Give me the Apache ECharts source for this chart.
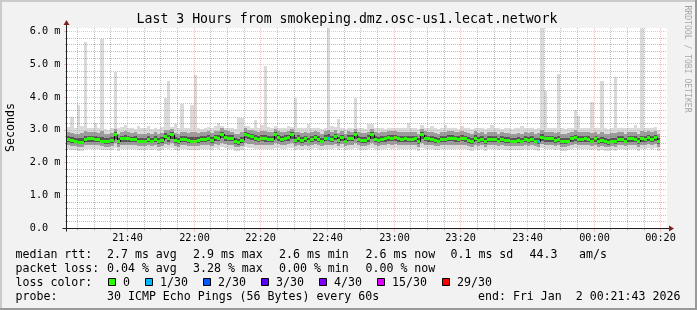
<!DOCTYPE html>
<html><head><meta charset="utf-8">
<script src="https://cdn.jsdelivr.net/npm/echarts@6/dist/echarts.min.js"></script>
<style>html,body{margin:0;padding:0;background:#f2f2f2}#c{width:697px;height:310px}</style>
</head><body><div id="c"></div><script>
// ---------- data ----------
const titleText = 'Last 3 Hours from smokeping.dmz.osc-us1.lecat.network';
const axisStart = '21:22', axisEnd = '00:22', firstSample = '21:22', stepMinutes = 1;
const xTickLabels = ['21:40','22:00','22:20','22:40','23:00','23:20','23:40','00:00','00:20'];
const yTickValues = [0,1,2,3,4,5,6];
const yMax = 6.1;

const medianRtt = [
2.70,2.67,2.65,2.62,2.62,2.69,2.72,2.72,2.69,2.69,
2.65,2.63,2.63,2.67,2.84,2.63,2.72,2.72,2.72,2.69,
2.69,2.65,2.65,2.65,2.69,2.65,2.69,2.63,2.67,2.80,
2.72,2.84,2.67,2.63,2.69,2.69,2.67,2.65,2.65,2.67,
2.69,2.69,2.73,2.67,2.75,2.73,2.86,2.75,2.73,2.73,
2.63,2.60,2.67,2.86,2.81,2.78,2.73,2.69,2.73,2.72,
2.69,2.69,2.84,2.75,2.70,2.73,2.75,2.84,2.67,2.72,
2.67,2.72,2.65,2.69,2.75,2.69,2.65,2.73,2.73,2.71,
2.78,2.67,2.75,2.65,2.73,2.73,2.84,2.69,2.67,2.67,
2.72,2.84,2.70,2.67,2.69,2.72,2.75,2.73,2.75,2.72,
2.69,2.72,2.69,2.69,2.72,2.63,2.84,2.73,2.72,2.69,
2.67,2.65,2.69,2.69,2.73,2.73,2.72,2.69,2.73,2.72,
2.67,2.63,2.73,2.67,2.69,2.63,2.69,2.69,2.69,2.65,
2.69,2.67,2.67,2.65,2.65,2.67,2.65,2.69,2.67,2.69,
2.65,2.63,2.75,2.72,2.72,2.72,2.67,2.69,2.63,2.63,
2.65,2.72,2.75,2.69,2.69,2.72,2.69,2.65,2.72,2.63,
2.67,2.63,2.60,2.65,2.63,2.69,2.69,2.65,2.72,2.72,
2.69,2.63,2.72,2.69,2.75,2.69,2.75,2.63];

const maxRtt = [
3.08,3.38,3.05,3.74,3.10,5.66,3.06,3.04,3.20,3.05,
5.76,3.02,3.00,3.06,4.77,3.04,3.08,3.15,3.04,3.06,
3.02,3.10,3.04,3.06,3.10,3.02,3.05,3.03,3.08,3.97,
4.47,3.08,3.16,3.04,3.79,3.06,3.04,3.74,4.66,3.04,
3.02,3.06,3.08,3.04,3.10,3.21,3.12,3.06,3.05,3.04,
3.02,3.34,3.34,3.12,3.10,3.06,3.30,3.04,3.15,4.94,
3.08,3.04,3.10,3.06,3.04,3.05,3.10,3.08,3.97,3.06,
3.04,3.05,3.18,3.04,3.06,3.05,3.02,3.04,6.20,3.10,
3.08,3.33,3.06,3.02,3.05,3.06,3.97,3.05,3.04,3.02,
3.16,3.16,3.06,3.04,3.05,3.02,3.06,3.04,3.05,3.04,
3.06,3.04,3.20,3.05,3.04,3.02,3.15,3.06,3.05,3.10,
3.04,3.02,3.05,3.15,3.06,3.04,3.05,3.02,3.10,3.04,
3.05,3.02,3.06,3.04,3.05,3.02,3.04,3.15,3.06,3.04,
3.02,3.04,3.05,3.02,3.04,3.06,3.10,3.04,3.05,3.04,
3.02,3.06,6.20,4.18,3.06,3.05,3.04,4.69,3.04,3.02,
3.04,3.06,3.59,3.42,3.05,3.04,3.06,3.85,3.05,3.04,
4.47,3.04,3.02,3.05,4.62,3.06,3.04,3.05,3.06,3.04,
3.15,3.04,6.20,3.05,3.06,3.04,3.08,3.00];

const p90Rtt = [
2.92,2.90,2.88,2.86,2.90,2.96,2.94,2.92,2.92,2.90,
2.96,2.88,2.86,2.90,3.02,2.88,2.94,2.95,2.93,2.90,
2.92,2.88,2.88,2.86,2.90,2.88,2.92,2.86,2.90,3.00,
2.98,3.02,2.90,2.88,2.94,2.92,2.90,2.92,2.94,2.90,
2.92,2.92,2.95,2.90,2.96,2.96,3.04,2.98,2.95,2.94,
2.88,2.86,2.92,3.04,3.00,2.98,2.96,2.92,2.95,2.96,
2.92,2.92,3.02,2.96,2.92,2.94,2.96,3.02,2.92,2.94,
2.90,2.94,2.90,2.92,2.96,2.92,2.88,2.95,2.98,2.93,
2.98,2.90,2.96,2.88,2.95,2.94,3.02,2.92,2.90,2.90,
2.94,3.02,2.92,2.90,2.92,2.94,2.96,2.95,2.96,2.94,
2.92,2.94,2.92,2.92,2.94,2.88,3.02,2.95,2.94,2.92,
2.90,2.88,2.92,2.92,2.95,2.95,2.94,2.92,2.95,2.94,
2.90,2.88,2.95,2.90,2.92,2.88,2.92,2.92,2.92,2.88,
2.92,2.90,2.90,2.88,2.88,2.90,2.88,2.92,2.90,2.92,
2.88,2.90,2.98,2.94,2.94,2.94,2.90,2.94,2.88,2.88,
2.90,2.94,2.98,2.92,2.92,2.94,2.92,2.90,2.94,2.88,
2.92,2.88,2.86,2.90,2.90,2.92,2.92,2.88,2.94,2.94,
2.92,2.88,2.96,2.92,2.96,2.92,2.96,2.88];

const p75Rtt = [
2.80,2.78,2.76,2.74,2.74,2.80,2.82,2.82,2.80,2.79,
2.77,2.75,2.75,2.78,2.92,2.75,2.82,2.83,2.82,2.79,
2.80,2.76,2.76,2.76,2.80,2.76,2.80,2.74,2.78,2.89,
2.83,2.92,2.78,2.75,2.80,2.80,2.78,2.77,2.77,2.78,
2.80,2.80,2.83,2.78,2.85,2.84,2.94,2.85,2.84,2.83,
2.75,2.72,2.78,2.94,2.90,2.88,2.84,2.80,2.84,2.83,
2.80,2.80,2.92,2.85,2.81,2.84,2.85,2.92,2.78,2.83,
2.78,2.82,2.76,2.80,2.85,2.80,2.76,2.84,2.86,2.82,
2.88,2.78,2.85,2.76,2.84,2.84,2.92,2.80,2.78,2.78,
2.83,2.92,2.81,2.78,2.80,2.82,2.85,2.84,2.85,2.82,
2.80,2.82,2.80,2.80,2.82,2.75,2.92,2.84,2.82,2.80,
2.78,2.76,2.80,2.80,2.84,2.84,2.82,2.80,2.84,2.82,
2.78,2.75,2.84,2.78,2.80,2.75,2.80,2.80,2.80,2.76,
2.80,2.78,2.78,2.76,2.76,2.78,2.76,2.80,2.78,2.80,
2.76,2.76,2.86,2.82,2.82,2.82,2.78,2.80,2.75,2.75,
2.76,2.82,2.85,2.80,2.80,2.82,2.80,2.76,2.82,2.75,
2.78,2.75,2.72,2.76,2.75,2.80,2.80,2.76,2.82,2.82,
2.80,2.75,2.82,2.80,2.85,2.80,2.85,2.75];

const p25Rtt = [
2.62,2.60,2.58,2.56,2.56,2.61,2.63,2.63,2.61,2.61,
2.58,2.56,2.56,2.60,2.72,2.56,2.63,2.63,2.63,2.61,
2.61,2.58,2.58,2.58,2.61,2.58,2.61,2.56,2.60,2.70,
2.63,2.72,2.60,2.56,2.61,2.61,2.60,2.58,2.58,2.60,
2.61,2.61,2.64,2.60,2.66,2.64,2.74,2.66,2.64,2.64,
2.56,2.54,2.60,2.74,2.70,2.68,2.64,2.61,2.64,2.63,
2.61,2.61,2.72,2.66,2.62,2.64,2.66,2.72,2.60,2.63,
2.60,2.63,2.58,2.61,2.66,2.61,2.58,2.64,2.64,2.62,
2.68,2.60,2.66,2.58,2.64,2.64,2.72,2.61,2.60,2.60,
2.63,2.72,2.62,2.60,2.61,2.63,2.66,2.64,2.66,2.63,
2.61,2.63,2.61,2.61,2.63,2.56,2.72,2.64,2.63,2.61,
2.60,2.58,2.61,2.61,2.64,2.64,2.63,2.61,2.64,2.63,
2.60,2.56,2.64,2.60,2.61,2.56,2.61,2.61,2.61,2.58,
2.61,2.60,2.60,2.58,2.58,2.60,2.58,2.61,2.60,2.61,
2.58,2.56,2.66,2.63,2.63,2.63,2.60,2.61,2.56,2.56,
2.58,2.63,2.66,2.61,2.61,2.63,2.61,2.58,2.63,2.56,
2.60,2.56,2.54,2.58,2.56,2.61,2.61,2.58,2.63,2.63,
2.61,2.56,2.63,2.61,2.66,2.61,2.66,2.56];

const p10Rtt = [
2.52,2.50,2.49,2.47,2.47,2.52,2.54,2.54,2.52,2.52,
2.50,2.48,2.48,2.51,2.58,2.48,2.54,2.54,2.54,2.52,
2.52,2.50,2.50,2.49,2.52,2.49,2.52,2.48,2.51,2.56,
2.54,2.58,2.51,2.48,2.52,2.52,2.51,2.50,2.50,2.51,
2.52,2.52,2.54,2.51,2.55,2.54,2.60,2.55,2.54,2.54,
2.48,2.46,2.51,2.60,2.57,2.56,2.54,2.52,2.54,2.54,
2.52,2.52,2.58,2.55,2.53,2.54,2.55,2.58,2.51,2.54,
2.51,2.54,2.50,2.52,2.55,2.52,2.50,2.54,2.54,2.53,
2.56,2.51,2.55,2.50,2.54,2.54,2.58,2.52,2.51,2.51,
2.54,2.58,2.53,2.51,2.52,2.54,2.55,2.54,2.55,2.54,
2.52,2.54,2.52,2.52,2.54,2.48,2.58,2.54,2.54,2.52,
2.51,2.50,2.52,2.52,2.54,2.54,2.54,2.52,2.54,2.54,
2.51,2.48,2.54,2.51,2.52,2.48,2.52,2.52,2.52,2.50,
2.52,2.51,2.51,2.50,2.50,2.51,2.50,2.52,2.51,2.52,
2.50,2.48,2.55,2.54,2.54,2.54,2.51,2.52,2.48,2.48,
2.50,2.54,2.55,2.52,2.52,2.54,2.52,2.50,2.54,2.48,
2.51,2.48,2.46,2.50,2.48,2.52,2.52,2.50,2.54,2.54,
2.52,2.48,2.54,2.52,2.55,2.52,2.55,2.48];

const minRtt = [
2.40,2.38,2.37,2.36,2.36,2.40,2.42,2.42,2.40,2.40,
2.38,2.37,2.37,2.39,2.44,2.36,2.42,2.42,2.42,2.40,
2.40,2.38,2.38,2.37,2.40,2.37,2.40,2.36,2.39,2.44,
2.42,2.44,2.39,2.36,2.40,2.40,2.39,2.38,2.38,2.39,
2.40,2.40,2.42,2.39,2.43,2.42,2.46,2.43,2.42,2.42,
2.36,2.34,2.39,2.46,2.44,2.43,2.42,2.40,2.42,2.42,
2.40,2.40,2.44,2.43,2.41,2.42,2.43,2.44,2.39,2.42,
2.39,2.42,2.38,2.40,2.43,2.40,2.38,2.42,2.42,2.41,
2.44,2.39,2.43,2.38,2.42,2.42,2.44,2.40,2.39,2.39,
2.42,2.44,2.41,2.39,2.40,2.42,2.43,2.42,2.43,2.42,
2.40,2.42,2.40,2.40,2.42,2.36,2.44,2.42,2.42,2.40,
2.39,2.38,2.40,2.40,2.42,2.42,2.42,2.40,2.42,2.42,
2.39,2.36,2.42,2.39,2.40,2.36,2.40,2.40,2.40,2.38,
2.40,2.39,2.39,2.38,2.38,2.39,2.38,2.40,2.39,2.40,
2.38,2.36,2.43,2.42,2.42,2.42,2.39,2.40,2.36,2.36,
2.38,2.42,2.43,2.40,2.40,2.42,2.40,2.38,2.42,2.36,
2.39,2.36,2.34,2.38,2.36,2.40,2.40,2.38,2.42,2.42,
2.40,2.36,2.42,2.40,2.43,2.40,2.43,2.36];

// sample index -> pings lost (of 30); all others lost none
const lostPings = [[78, 1], [141, 1]];
const lossLegend = ['0', '1/30', '2/30', '3/30', '4/30', '15/30', '29/30'];
const lossLevels = [0, 1, 2, 3, 4, 15, 29];
const lossColors = ['#26ff00', '#00b8ff', '#0059ff', '#5e00ff', '#7e00ff', '#dd00ff', '#ff0000'];

const rttStats = ['2.7 ms avg', '2.9 ms max', '2.6 ms min', '2.6 ms now', '0.1 ms sd', '44.3', 'am/s'];
const lossStats = ['0.04 % avg', '3.28 % max', '0.00 % min', '0.00 % now'];
const probeText = '30 ICMP Echo Pings (56 Bytes) every 60s';
const endText = 'end: Fri Jan  2 00:21:43 2026';

// ---------- build ----------
const MONO = '"DejaVu Sans Mono", monospace';
const toMin = s => { const [h, m] = s.split(':').map(Number); let v = h * 60 + m; if (v < 12 * 60) v += 1440; return v; };
const tStart = toMin(axisStart), tEnd = toMin(axisEnd), t0 = toMin(firstSample);
const lossCount = medianRtt.map(() => 0);
lostPings.forEach(([i, n]) => { lossCount[i] = n; });
const lossColorOf = n => { let c = lossColors[0]; lossLevels.forEach((l, k) => { if (n >= l) c = lossColors[k]; }); return c; };

const smokeData = medianRtt.map((m, i) => [t0 + i * stepMinutes, minRtt[i], p10Rtt[i], p25Rtt[i], p75Rtt[i], p90Rtt[i], maxRtt[i]]);
const medData = medianRtt.map((m, i) => [t0 + i * stepMinutes, m, i > 0 ? medianRtt[i - 1] : m, lossCount[i]]);

const majorTimes = xTickLabels.map(toMin);
const gridData = [];
for (let t = Math.ceil(tStart / 5) * 5; t < tEnd; t += 5) gridData.push([t, 0, majorTimes.includes(t) ? 1 : 0]);
for (let k = 1; k * 0.2 <= yMax + 1e-9; k++) { const v = Math.round(k * 2) / 10; gridData.push([tStart, v, yTickValues.includes(v) ? 3 : 2]); }

const GRID_C = 'rgba(128,128,128,0.5)', MGRID_C = 'rgba(245,128,128,0.5)';
const fmtTime = t => { const m = ((t % 1440) + 1440) % 1440; return String(Math.floor(m / 60)).padStart(2, '0') + ':' + String(m % 60).padStart(2, '0'); };

function renderSmoke(params, api) {
  const t = api.value(0);
  const a = api.coord([t, 0]), b = api.coord([t + stepMinutes, 0]);
  const x0 = Math.round(a[0]), x1 = Math.round(b[0]);
  const band = (lo, hi, color) => {
    const ylo = Math.round(api.coord([t, lo])[1]);
    const yhi = Math.round(api.coord([t, Math.min(hi, yMax + 0.1)])[1]);
    return { type: 'rect', shape: { x: x0, y: yhi, width: x1 - x0, height: Math.max(1, ylo - yhi) }, style: { fill: color } };
  };
  return { type: 'group', children: [
    band(api.value(1), api.value(6), '#dadada'),
    band(api.value(2), api.value(5), '#9c9c9c'),
    band(api.value(3), api.value(4), '#555555')
  ]};
}
function renderMedian(params, api) {
  const t = api.value(0), m = api.value(1), pm = api.value(2), loss = api.value(3);
  const a = api.coord([t, m]), b = api.coord([t + stepMinutes, m]);
  const x0 = Math.round(a[0]), x1 = Math.round(b[0]);
  const y = a[1], py = api.coord([t, pm])[1];
  return { type: 'group', children: [
    { type: 'line', shape: { x1: x0 + 0.5, y1: py, x2: x0 + 0.5, y2: y }, style: { stroke: '#000', lineWidth: 1 } },
    { type: 'rect', shape: { x: x0, y: Math.round(y - 1.5), width: x1 - x0, height: 3 }, style: { fill: lossColorOf(loss) } }
  ]};
}
function renderGrid(params, api) {
  const kind = api.value(2);
  const children = [];
  if (kind <= 1) {
    const t = api.value(0);
    const pb = api.coord([t, 0]), pt = api.coord([t, yMax]);
    const x = Math.round(pb[0]) + 0.5, y0 = pb[1], y1 = pt[1];
    const c = kind ? MGRID_C : GRID_C;
    children.push({ type: 'line', shape: { x1: x, y1: y1, x2: x, y2: y0 }, style: { stroke: c, lineWidth: 1, lineDash: [1, 1] } });
    children.push({ type: 'line', shape: { x1: x, y1: y0, x2: x, y2: y0 + (kind ? 3.5 : 2.5) }, style: { stroke: c, lineWidth: 1 } });
    if (kind) children.push({ type: 'text', style: { text: fmtTime(t), x: x, y: y0 + 10.5, textAlign: 'center', textVerticalAlign: 'middle', align: 'center', verticalAlign: 'middle', fontSize: 10.2, fontFamily: MONO, fill: '#000' } });
  } else {
    const v = api.value(1);
    const pl = api.coord([tStart, v]), pr = api.coord([tEnd, v]);
    const y = Math.round(pl[1]) + 0.5;
    const c = kind === 3 ? MGRID_C : GRID_C;
    children.push({ type: 'line', shape: { x1: pl[0], y1: y, x2: pr[0], y2: y }, style: { stroke: c, lineWidth: 1, lineDash: [1, 1] } });
    children.push({ type: 'line', shape: { x1: pl[0] - (kind === 3 ? 3 : 2), y1: y, x2: pl[0] + 1, y2: y }, style: { stroke: c, lineWidth: 1 } });
  }
  return { type: 'group', children };
}
function renderFrame(params, api) {
  const o = api.coord([tStart, 0]), e = api.coord([tEnd, yMax]);
  const x = Math.floor(o[0]) - 0.5, y = Math.round(o[1]) + 0.5;
  const AX = '#1f1f1f', AR = '#801f1f';
  return { type: 'group', children: [
    { type: 'line', shape: { x1: x - 4, y1: y, x2: e[0] + 3, y2: y }, style: { stroke: AX, lineWidth: 1 } },
    { type: 'line', shape: { x1: x, y1: y + 3, x2: x, y2: e[1] - 4 }, style: { stroke: AX, lineWidth: 1 } },
    { type: 'polygon', shape: { points: [[e[0] + 2, y - 3], [e[0] + 7, y], [e[0] + 2, y + 3]] }, style: { fill: AR } },
    { type: 'polygon', shape: { points: [[x - 3, e[1] - 3], [x, e[1] - 8], [x + 3, e[1] - 3]] }, style: { fill: AR } }
  ]};
}

// ---------- legend / text graphics ----------
const txt = (text, x, y, extra) => Object.assign({ type: 'text', x: x, y: y, silent: true,
  style: Object.assign({ text, font: '11.6px ' + MONO, fill: '#000', textAlign: 'left', textVerticalAlign: 'middle', align: 'left', verticalAlign: 'middle' }, extra || {}) });
const rows = [254.5, 268.5, 282.5, 296.5];
const statX = [107, 193, 279, 365.5, 450.5, 529.5, 579];
const boxX = [108.5, 145.5, 203.5, 261.5, 319.5, 377.5, 442.5];
const graphics = [
  { type: 'rect', shape: { x: 0, y: 0, width: 697, height: 2 }, style: { fill: '#cbcbcb' } },
  { type: 'rect', shape: { x: 0, y: 0, width: 2, height: 310 }, style: { fill: '#cbcbcb' } },
  { type: 'rect', shape: { x: 0, y: 308, width: 697, height: 2 }, style: { fill: '#999999' } },
  { type: 'rect', shape: { x: 695, y: 0, width: 2, height: 310 }, style: { fill: '#999999' } },
  txt(titleText, 347, 20, { font: '13.2px ' + MONO, textAlign: 'center', align: 'center' }),
  Object.assign(txt('Seconds', 11, 127.5, { textAlign: 'center', align: 'center' }), { rotation: Math.PI / 2 }),
  Object.assign(txt('RRDTOOL / TOBI OETIKER', 687.5, 59, { font: '8.1px ' + MONO, fill: 'rgba(0,0,0,0.33)', textAlign: 'center', align: 'center' }), { rotation: -Math.PI / 2 }),
  txt('median rtt:', 15.5, rows[0]),
  txt('packet loss:', 15.5, rows[1]),
  txt('loss color:', 15.5, rows[2]),
  txt('probe:', 15.5, rows[3]),
  txt(probeText, 107, rows[3]),
  txt(endText, 478, rows[3])
];
rttStats.forEach((s, i) => graphics.push(txt(s, statX[i], rows[0])));
lossStats.forEach((s, i) => graphics.push(txt(s, statX[i], rows[1])));
lossLegend.forEach((s, i) => {
  graphics.push({ type: 'rect', shape: { x: boxX[i], y: rows[2] - 4, width: 7, height: 7 }, style: { fill: lossColors[i], stroke: '#000', lineWidth: 1 } });
  graphics.push(txt(s, boxX[i] + 14.5, rows[2]));
});

const chart = echarts.init(document.getElementById('c'), null, { renderer: 'canvas' });
chart.setOption({
  animation: false,
  backgroundColor: '#f2f2f2',
  grid: { left: 67, top: 28, width: 600, height: 200, show: true, backgroundColor: '#ffffff', borderWidth: 0 },
  xAxis: { type: 'value', min: tStart, max: tEnd, axisLine: { show: false }, axisTick: { show: false }, axisLabel: { show: false }, splitLine: { show: false } },
  yAxis: { type: 'value', min: 0, max: yMax, interval: 1,
    axisLine: { show: false }, axisTick: { show: false }, splitLine: { show: false },
    axisLabel: { margin: 6.5, fontSize: 10.2, fontFamily: MONO, color: '#000',
      formatter: v => yTickValues.includes(v) ? (v === 0 ? '0.0  ' : v.toFixed(1) + ' m') : '' } },
  graphic: graphics,
  series: [
    { type: 'custom', name: 'smoke', data: smokeData, renderItem: renderSmoke, clip: true, z: 1, silent: true },
    { type: 'custom', name: 'median', data: medData, renderItem: renderMedian, clip: true, z: 2, silent: true },
    { type: 'custom', name: 'grid', data: gridData, renderItem: renderGrid, clip: false, z: 3, silent: true },
    { type: 'custom', name: 'frame', data: [[tStart, 0]], renderItem: renderFrame, clip: false, z: 4, silent: true }
  ]
});
</script></body></html>
